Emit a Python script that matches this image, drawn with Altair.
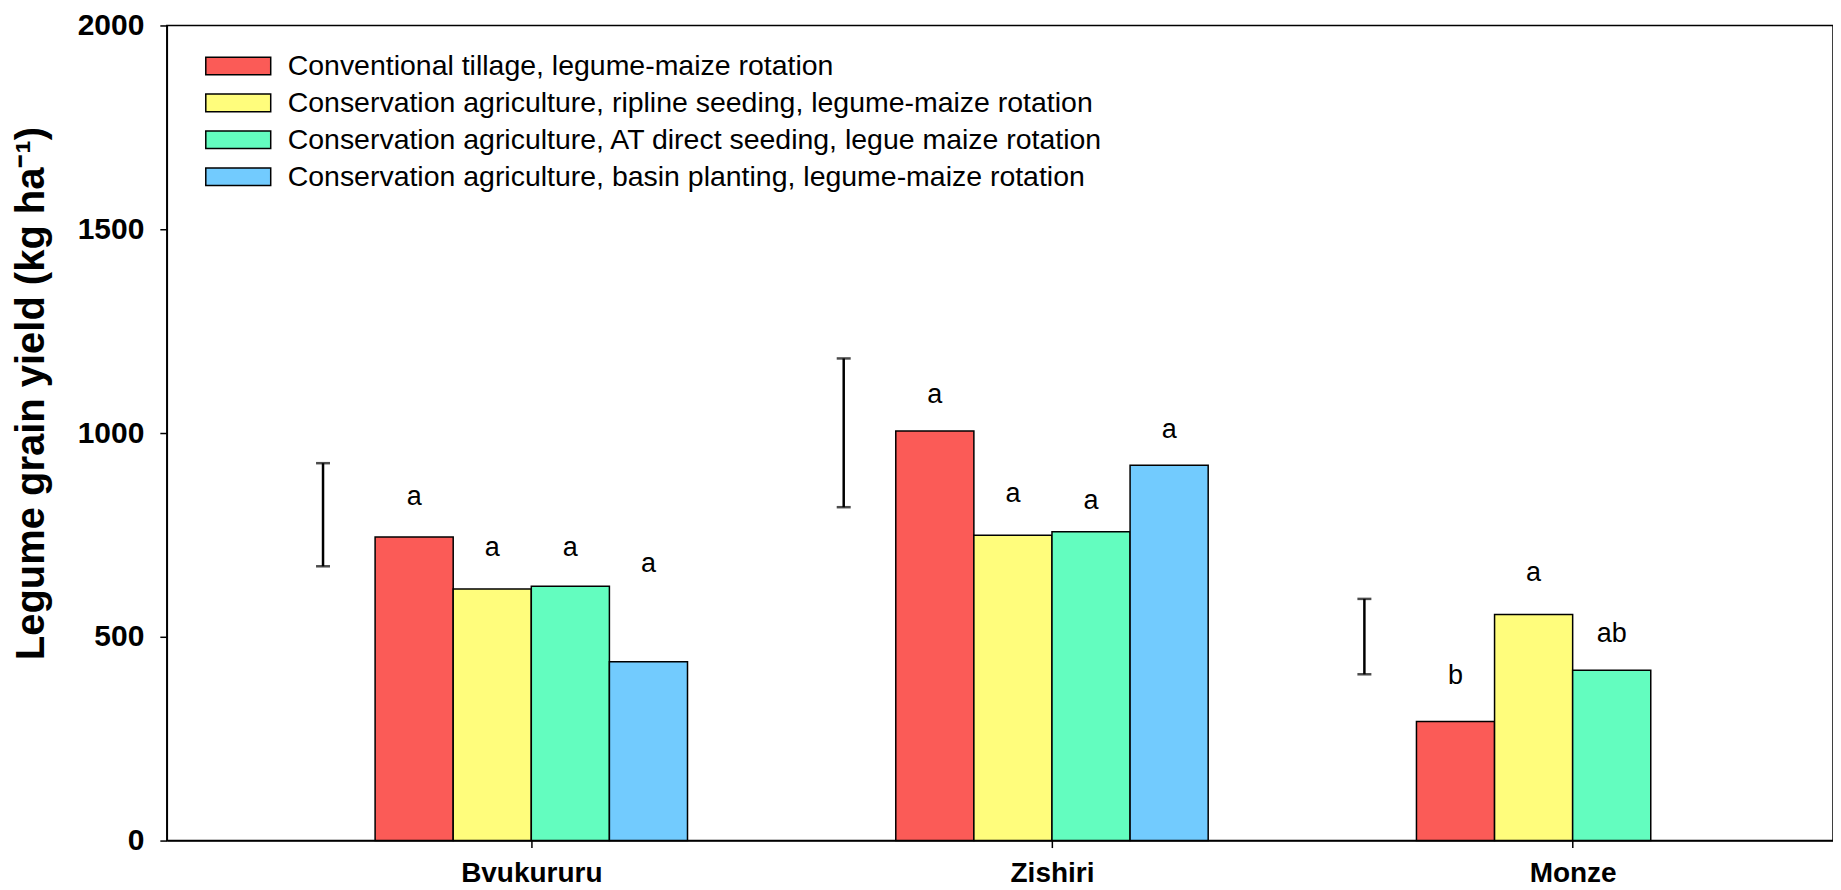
import json
import altair as alt
import pandas as pd

# ---------------- data ----------------
sites = ["Bvukururu", "Zishiri", "Monze"]
treatments = [
    "Conventional tillage, legume-maize rotation",
    "Conservation agriculture, ripline seeding, legume-maize rotation",
    "Conservation agriculture, AT direct seeding, legue maize rotation",
    "Conservation agriculture, basin planting, legume-maize rotation",
]
colors = ["#FB5B57", "#FFFD7C", "#63FDBF", "#72CBFE"]

yield_ct = [745, 1005, 292]
yield_ripline = [617, 749, 555]
yield_at = [624, 758, 418]
yield_basin = [439, 921, None]

letters_ct = ["a", "a", "b"]
letters_ripline = ["a", "a", "a"]
letters_at = ["a", "a", "ab"]
letters_basin = ["a", "a", None]

# height (kg/ha) at which each letter's baseline sits
letter_y_ct = [824, 1073, 384]
letter_y_ripline = [698, 831, 637]
letter_y_at = [698, 814, 486]
letter_y_basin = [660, 989, None]

# LSD error bars (low, high) per site
lsd_low = [673, 818, 408]
lsd_high = [926, 1183, 593]

y_ticks = [0, 500, 1000, 1500, 2000]

# ---------------- build tables ----------------
BAR_W = 0.15
series_yield = [yield_ct, yield_ripline, yield_at, yield_basin]
series_letters = [letters_ct, letters_ripline, letters_at, letters_basin]
series_ly = [letter_y_ct, letter_y_ripline, letter_y_at, letter_y_basin]

bar_rows, text_rows = [], []
for i, site in enumerate(sites):
    pos = i + 1
    for j, tr in enumerate(treatments):
        v = series_yield[j][i]
        if v is None:
            continue
        x0 = pos + (j - 2) * BAR_W
        bar_rows.append({"site": site, "treatment": tr, "x0": x0, "x1": x0 + BAR_W, "yield": v})
        text_rows.append({"xc": x0 + BAR_W / 2, "ly": series_ly[j][i], "letter": series_letters[j][i]})

bars_df = pd.DataFrame(bar_rows)
text_df = pd.DataFrame(text_rows)
err_df = pd.DataFrame({
    "xe": [i + 1 - 0.4 for i in range(len(sites))],
    "lo": lsd_low,
    "hi": lsd_high,
})

FONT = "Liberation Sans"
xscale = alt.Scale(domain=[0.3, 3.5], nice=False, zero=False)
yscale = alt.Scale(domain=[0, 2000], nice=False)

label_expr = json.dumps(sites) + "[datum.value - 1]"

bars = alt.Chart(bars_df).mark_bar(stroke="black", strokeWidth=1.5).encode(
    x=alt.X("x0:Q", scale=xscale, axis=alt.Axis(
        values=[1, 2, 3], labelExpr=label_expr, title=None, grid=False,
        tickSize=7, tickColor="black", tickWidth=1.5, domainColor="black", domainWidth=1.5,
        labelFont=FONT, labelFontSize=28, labelFontWeight="bold", labelColor="black",
        labelBaseline="alphabetic", labelPadding=34)),
    x2="x1:Q",
    y=alt.Y("yield:Q", scale=yscale, axis=alt.Axis(
        values=y_ticks, format="d", title="Legume grain yield (kg ha\u207b\u00b9)", grid=False,
        tickSize=7, tickColor="black", tickWidth=1.5, domainColor="black", domainWidth=1.5,
        labelFont=FONT, labelFontSize=30, labelFontWeight="bold", labelColor="black",
        labelPadding=16, titleFont=FONT, titleFontSize=40, titleFontWeight="bold",
        titleColor="black", titleX=-135, titleY=368, titleAlign="center",
        titleBaseline="middle")),
    y2=alt.datum(0),
    color=alt.Color("treatment:N", sort=treatments,
                    scale=alt.Scale(domain=treatments, range=colors),
                    legend=alt.Legend(
                        title=None, orient="none", legendX=38, legendY=22,
                        symbolType="M-1,-0.27H1V0.27H-1Z", symbolSize=4225,
                        symbolStrokeColor="black", symbolStrokeWidth=1.5,
                        symbolOpacity=1, clipHeight=37,
                        labelFont=FONT, labelFontSize=28.5, labelColor="black",
                        labelLimit=0, labelOffset=16, rowPadding=0, padding=0)),
)

letters = alt.Chart(text_df).mark_text(
    font=FONT, fontSize=27, color="black", baseline="alphabetic", align="center"
).encode(
    x=alt.X("xc:Q", scale=xscale),
    y=alt.Y("ly:Q", scale=yscale),
    text="letter:N",
)

err_rule = alt.Chart(err_df).mark_rule(color="black", strokeWidth=2.5).encode(
    x=alt.X("xe:Q", scale=xscale),
    y=alt.Y("lo:Q", scale=yscale),
    y2="hi:Q",
)
cap_lo = alt.Chart(err_df).mark_tick(color="black", thickness=2.5, size=14, orient="horizontal").encode(
    x=alt.X("xe:Q", scale=xscale),
    y=alt.Y("lo:Q", scale=yscale),
)
cap_hi = alt.Chart(err_df).mark_tick(color="black", thickness=2.5, size=14, orient="horizontal").encode(
    x=alt.X("xe:Q", scale=xscale),
    y=alt.Y("hi:Q", scale=yscale),
)

chart = alt.layer(bars, letters, err_rule, cap_lo, cap_hi).properties(
    width=1668, height=816,
    autosize=alt.AutoSizeParams(type="none"),
    padding={"left": 159, "top": 17, "right": 0, "bottom": 48},
).configure(background="white").configure_view(stroke="black", strokeWidth=1.5)

chart.save("out.html", embed_options={"renderer": "svg", "actions": False})
